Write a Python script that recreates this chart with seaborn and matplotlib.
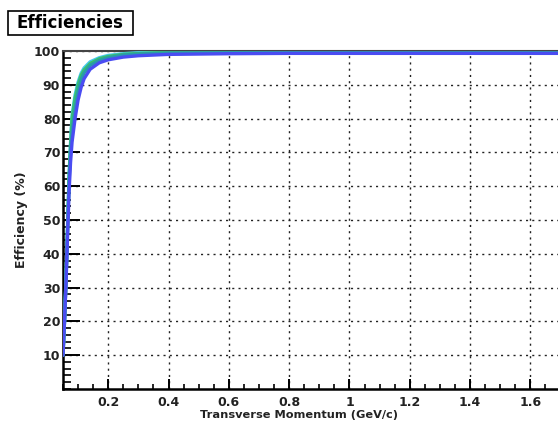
import matplotlib
matplotlib.use("Agg")
import matplotlib.pyplot as plt
from matplotlib.patches import Rectangle
from matplotlib.ticker import MultipleLocator
import numpy as np
import pandas as pd
import seaborn as sns

# Transverse momentum sample points (GeV/c)
pt = [0.05, 0.055, 0.06, 0.065, 0.07, 0.075, 0.08, 0.09, 0.10, 0.11, 0.12,
      0.14, 0.17, 0.20, 0.25, 0.30, 0.40, 0.60, 0.80, 1.00, 1.40, 2.00]

# Tracking efficiency (%) for each sample
eff_blue = [10, 20, 31, 45, 58, 67, 73, 80, 85.5, 89.2, 91.8,
            94.6, 96.5, 97.4, 98.2, 98.6, 99.0, 99.2, 99.3, 99.3, 99.3, 99.3]
eff_teal = [10, 20, 32, 47, 61, 70, 76, 83, 88, 91.5, 93.5,
            95.7, 97.2, 98.0, 98.8, 99.1, 99.4, 99.5, 99.5, 99.5, 99.5, 99.5]
eff_green = [10, 20, 32, 47, 62, 72, 80, 86, 90, 92.8, 94.4,
             96.3, 97.7, 98.4, 99.0, 99.3, 99.6, 99.7, 99.7, 99.7, 99.7, 99.7]
eff_cyan = [10, 20, 33, 48, 63, 73, 81, 87, 90.8, 93.4, 95.0,
            96.8, 98.0, 98.7, 99.2, 99.5, 99.7, 99.8, 99.8, 99.8, 99.8, 99.8]

series_names = ["cyan", "green", "teal", "blue"]
series_values = [eff_cyan, eff_green, eff_teal, eff_blue]
series_colors = ["#48c8f0", "#38c070", "#2a9aa8", "#4a4cf2"]

x_ticks = [0.2, 0.4, 0.6, 0.8, 1.0, 1.2, 1.4, 1.6]
x_tick_labels = ["0.2", "0.4", "0.6", "0.8", "1", "1.2", "1.4", "1.6"]
y_ticks = [10, 20, 30, 40, 50, 60, 70, 80, 90, 100]

df = pd.DataFrame({
    "pt": pt * len(series_names),
    "eff": sum(series_values, []),
    "series": sum([[n] * len(pt) for n in series_names], []),
})

sns.set_theme(style="white")
plt.rcParams["font.family"] = ["DejaVu Sans"]
plt.rcParams["font.weight"] = "bold"

fig = plt.figure(figsize=(5.58, 4.22), dpi=100)
fig.patch.set_facecolor("white")
W, H = 558, 422
ax_left, ax_bottom, ax_top, ax_right = 63, 389, 51, 651
ax = fig.add_axes([ax_left / W, (H - ax_bottom) / H,
                   (ax_right - ax_left) / W, (ax_bottom - ax_top) / H])
ax.set_facecolor("white")

sns.lineplot(data=df, x="pt", y="eff", hue="series", hue_order=series_names,
             palette=series_colors, linewidth=2.4, legend=False, ax=ax,
             sort=False, zorder=3)

ax.set_xlim(0.05, 2.0)
ax.set_ylim(0, 100)
ax.set_xticks(x_ticks)
ax.set_xticklabels(x_tick_labels)
ax.set_yticks(y_ticks)
ax.xaxis.set_minor_locator(MultipleLocator(0.05))
ax.yaxis.set_minor_locator(MultipleLocator(2))

ax.grid(True, which="major", color="#222222", linestyle=(0, (1.5, 3)),
        linewidth=1.0, zorder=1)

ax.tick_params(axis="both", which="both", bottom=True, left=True,
               top=False, right=False, direction="in", color="black")
ax.tick_params(axis="y", which="major", length=12, width=1.4,
               labelsize=9, pad=2)
ax.tick_params(axis="y", which="minor", length=6, width=1.2)
ax.tick_params(axis="x", which="major", length=7, width=1.4,
               labelsize=9, pad=5)
ax.tick_params(axis="x", which="minor", length=3.5, width=1.2)
for lbl in ax.get_xticklabels() + ax.get_yticklabels():
    lbl.set_fontweight("bold")
    lbl.set_color("#222222")

for side in ["left", "bottom"]:
    ax.spines[side].set_linewidth(1.8)
    ax.spines[side].set_color("black")
ax.spines["top"].set_linewidth(1.5)
ax.spines["top"].set_color("#444444")
ax.spines["right"].set_visible(False)

ax.set_xlabel("Transverse Momentum (GeV/c)", fontsize=8.2, fontweight="bold",
              color="#222222")
ax.xaxis.set_label_coords((299 - ax_left) / (ax_right - ax_left),
                          (ax_bottom - 410) / (ax_bottom - ax_top))
ax.set_ylabel("Efficiency (%)", fontsize=9, fontweight="bold",
              color="#222222")
ax.yaxis.set_label_coords((28 - ax_left) / (ax_right - ax_left), 0.5)

# Title box
fig.patches.append(Rectangle((7.5 / W, 1 - 34.5 / H), 125 / W, 23.5 / H,
                             transform=fig.transFigure, facecolor="white",
                             edgecolor="black", linewidth=1.2))
fig.text(70 / W, 1 - 22.7 / H, "Efficiencies", ha="center", va="center",
         fontsize=12, fontweight="bold", color="black")

fig.savefig("out.png", dpi=100, facecolor="white")
